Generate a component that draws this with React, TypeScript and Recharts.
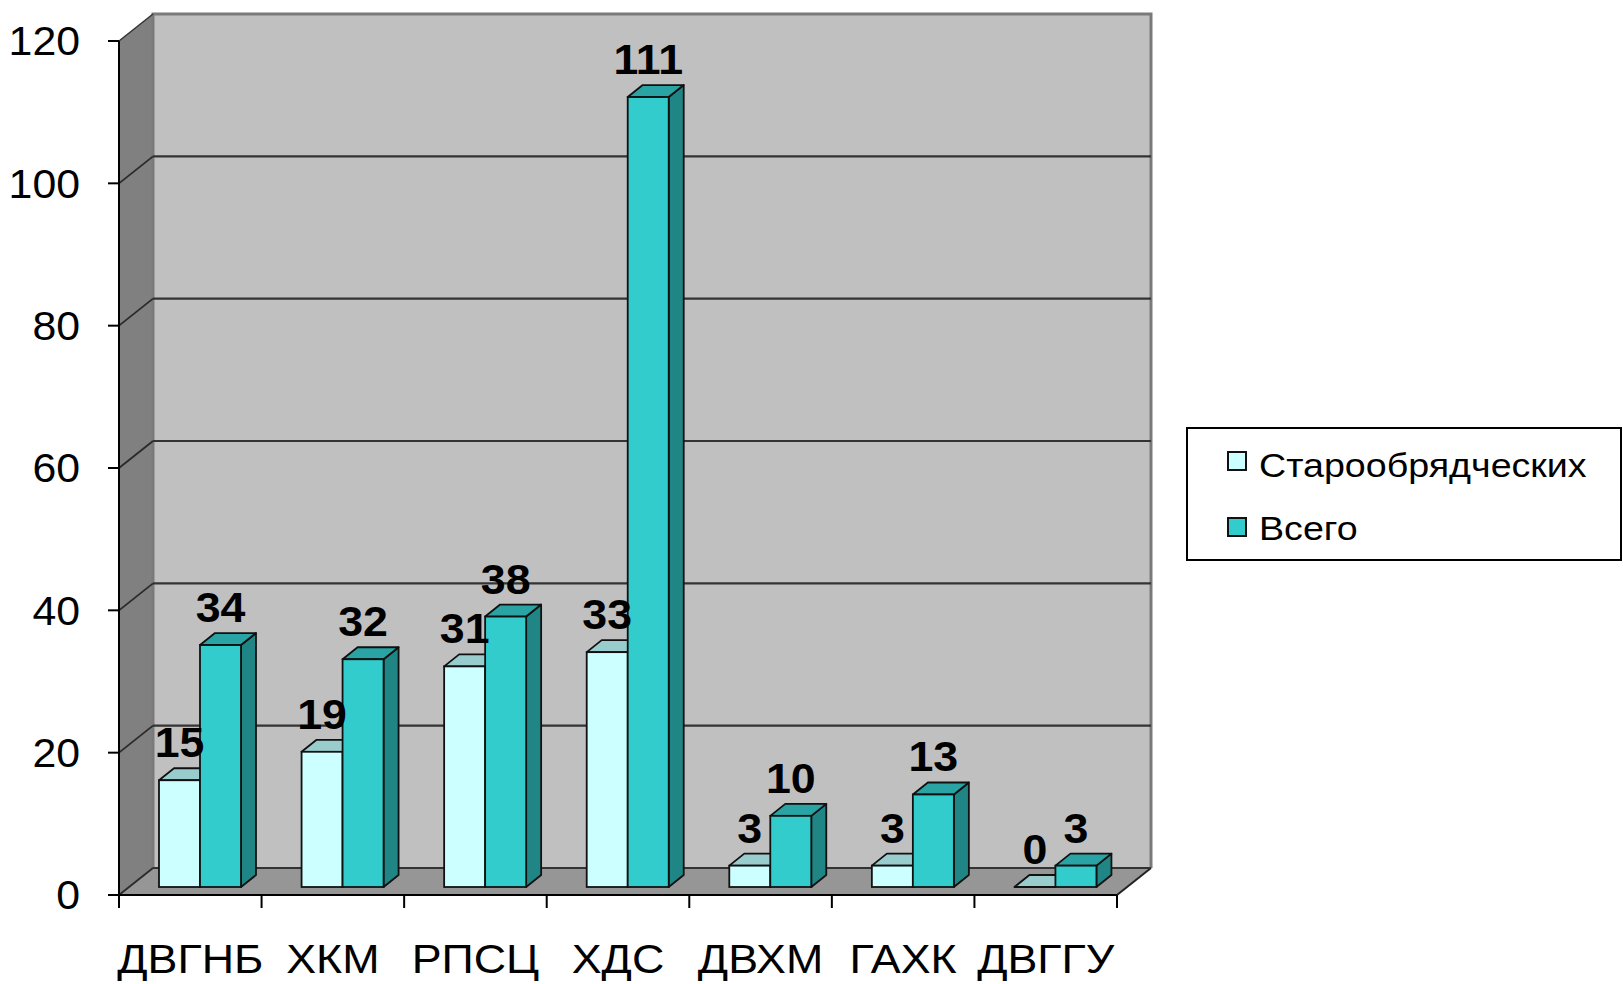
import React from 'react';
import { BarChart, Bar, XAxis, YAxis, CartesianGrid, LabelList, Legend } from 'recharts';

const categories = ['ДВГНБ', 'ХКМ', 'РПСЦ', 'ХДС', 'ДВХМ', 'ГАХК', 'ДВГГУ'];
const oldBelieverValues = [15, 19, 31, 33, 3, 3, 0];
const totalValues = [34, 32, 38, 111, 10, 13, 3];
const yTicks = [0, 20, 40, 60, 80, 100, 120];
const seriesNames = ['Старообрядческих', 'Всего'];

const data = categories.map((c, i) => ({ name: c, old: oldBelieverValues[i], total: totalValues[i] }));

const FONT = '"Liberation Sans", Arial, Helvetica, sans-serif';
const W = 1623;
const H = 984;
const M_TOP = 41;
const Y_AXIS_W = 119;
const X_AXIS_H = 89;
const PLOT_RIGHT_GAP = 506;
const LEGEND_W = 436;
const LEGEND_H = 134;
const PLOT_L = Y_AXIS_W;
const PLOT_R = W - PLOT_RIGHT_GAP;
const PLOT_T = M_TOP;
const PLOT_B = H - X_AXIS_H;
// wall depth
const WDX = 34;
const WDY = 27;
// bar depth
const BDX = 15;
const BDY = 12;
const SHIFT_X = 10;
const SHIFT_Y = -8;
// horizontal stretch of the text in the original picture
const STRETCH_CAT = 1.12;
const STRETCH_Y = 1.07;
const STRETCH_LEG = 1.14;
const STRETCH_LBL = 1.04;

const makeShape = (front: string, top: string, side: string) => (p: any) => {
  const x = p.x + SHIFT_X;
  const w = p.width;
  const yt = p.y + SHIFT_Y;
  const yb = yt + (p.height || 0);
  const stroke = '#111';
  const sw = 1.8;
  return (
    <g>
      <polygon
        points={`${x + w},${yt} ${x + w + BDX},${yt - BDY} ${x + w + BDX},${yb - BDY} ${x + w},${yb}`}
        fill={side}
        stroke={stroke}
        strokeWidth={sw}
        strokeLinejoin="round"
      />
      <polygon
        points={`${x},${yt} ${x + BDX},${yt - BDY} ${x + w + BDX},${yt - BDY} ${x + w},${yt}`}
        fill={top}
        stroke={stroke}
        strokeWidth={sw}
        strokeLinejoin="round"
      />
      {yb - yt > 0 && <rect x={x} y={yt} width={w} height={yb - yt} fill={front} stroke={stroke} strokeWidth={sw} />}
    </g>
  );
};

const lightShape = makeShape('#CCFFFF', '#99CCCC', '#80B0B0');
const tealShape = makeShape('#33CCCC', '#29A3A3', '#1F8585');

const renderLabel = (p: any) => {
  const cx = p.x + SHIFT_X + p.width / 2;
  const cy = p.y + SHIFT_Y - 23;
  return (
    <text
      x={0}
      y={0}
      transform={`translate(${cx},${cy}) scale(${STRETCH_LBL},1)`}
      textAnchor="middle"
      fontFamily={FONT}
      fontWeight="bold"
      fontSize={43}
      fill="#000"
    >
      {p.value}
    </text>
  );
};

const Walls = () => (
  <g>
    <polygon
      points={`${PLOT_L + WDX},${PLOT_T - WDY} ${PLOT_R + WDX},${PLOT_T - WDY} ${PLOT_R + WDX},${PLOT_B - WDY} ${PLOT_L + WDX},${PLOT_B - WDY}`}
      fill="#C0C0C0"
    />
    <polygon
      points={`${PLOT_L},${PLOT_T} ${PLOT_L + WDX},${PLOT_T - WDY} ${PLOT_L + WDX},${PLOT_B - WDY} ${PLOT_L},${PLOT_B}`}
      fill="#808080"
    />
    <polygon
      points={`${PLOT_L},${PLOT_B} ${PLOT_L + WDX},${PLOT_B - WDY} ${PLOT_R + WDX},${PLOT_B - WDY} ${PLOT_R},${PLOT_B}`}
      fill="#969696"
    />
    <polyline
      points={`${PLOT_L + WDX},${PLOT_B - WDY} ${PLOT_L + WDX},${PLOT_T - WDY} ${PLOT_R + WDX},${PLOT_T - WDY} ${PLOT_R + WDX},${PLOT_B - WDY}`}
      fill="none"
      stroke="#7A7A7A"
      strokeWidth={3}
    />
    <line x1={PLOT_L} y1={PLOT_T} x2={PLOT_L + WDX} y2={PLOT_T - WDY} stroke="#333" strokeWidth={1.5} />
    <line x1={PLOT_R} y1={PLOT_B} x2={PLOT_R + WDX} y2={PLOT_B - WDY} stroke="#222" strokeWidth={2} />
  </g>
);

const renderGridLine = (p: any) => {
  const y = p.y1;
  const isTop = Math.abs(y - PLOT_T) < 1;
  return (
    <g key={p.key}>
      {p.index === 0 && <Walls />}
      {!isTop && (
        <g>
          <line x1={PLOT_L} y1={y} x2={PLOT_L + WDX} y2={y - WDY} stroke="#2a2a2a" strokeWidth={1.8} />
          <line x1={PLOT_L + WDX} y1={y - WDY} x2={PLOT_R + WDX} y2={y - WDY} stroke="#333" strokeWidth={2.2} />
        </g>
      )}
    </g>
  );
};

const renderXTick = (p: any) => {
  const half = p.payload && p.payload.offset ? p.payload.offset : (PLOT_R - PLOT_L) / categories.length / 2;
  const left = p.x - half;
  const right = p.x + half;
  return (
    <g>
      <line x1={left} y1={p.y} x2={left} y2={p.y + 13} stroke="#000" strokeWidth={2} />
      {p.index === categories.length - 1 && (
        <line x1={right} y1={p.y} x2={right} y2={p.y + 13} stroke="#000" strokeWidth={2} />
      )}
      <text
        x={0}
        y={0}
        transform={`translate(${p.x},${p.y + 78}) scale(${STRETCH_CAT},1)`}
        textAnchor="middle"
        fontFamily={FONT}
        fontSize={40}
        fill="#000"
      >
        {p.payload.value}
      </text>
    </g>
  );
};

const renderYTick = (p: any) => (
  <text
    x={0}
    y={0}
    dy="0.355em"
    transform={`translate(${p.x},${p.y}) scale(${STRETCH_Y},1)`}
    textAnchor="end"
    fontFamily={FONT}
    fontSize={40}
    fill="#000"
  >
    {p.payload.value}
  </text>
);

const LegendBox = () => (
  <div
    style={{
      position: 'relative',
      width: LEGEND_W,
      height: LEGEND_H,
      boxSizing: 'border-box',
      border: '2px solid #000',
      background: '#fff',
      fontFamily: FONT,
    }}
  >
    {seriesNames.map((n, i) => (
      <React.Fragment key={n}>
        <div
          style={{
            position: 'absolute',
            left: 39,
            top: 22 + i * 66,
            width: 20,
            height: 20,
            boxSizing: 'border-box',
            border: '2px solid #111',
            background: i === 0 ? '#CCFFFF' : '#33CCCC',
          }}
        />
        <div
          style={{
            position: 'absolute',
            left: 71,
            top: 20 + i * 63,
            fontSize: 33,
            lineHeight: '33px',
            color: '#000',
            whiteSpace: 'nowrap',
            transform: `scaleX(${STRETCH_LEG})`,
            transformOrigin: 'left center',
          }}
        >
          {n}
        </div>
      </React.Fragment>
    ))}
  </div>
);

export default function App() {
  return (
    <div style={{ position: 'absolute', left: 0, top: 0, width: W, height: H, fontFamily: FONT, background: '#fff' }}>
      <BarChart
        width={W}
        height={H}
        data={data}
        margin={{ top: M_TOP, right: PLOT_RIGHT_GAP - LEGEND_W, bottom: 0, left: 0 }}
        barCategoryGap={30}
        barGap={0}
      >
        <CartesianGrid vertical={false} horizontal={renderGridLine} />
        <XAxis
          dataKey="name"
          height={X_AXIS_H}
          tickLine={false}
          tickSize={0}
          tickMargin={0}
          axisLine={{ stroke: '#000', strokeWidth: 2 }}
          tick={renderXTick}
          interval={0}
        />
        <YAxis
          width={Y_AXIS_W}
          domain={[0, 120]}
          ticks={yTicks}
          tickSize={11}
          tickMargin={28}
          tickLine={{ stroke: '#000', strokeWidth: 2 }}
          axisLine={{ stroke: '#000', strokeWidth: 2 }}
          tick={renderYTick}
          interval={0}
        />
        <Legend
          layout="vertical"
          align="right"
          verticalAlign="middle"
          content={() => <LegendBox />}
          wrapperStyle={{ left: 1186, top: 427, width: LEGEND_W, height: LEGEND_H }}
        />
        <Bar dataKey="old" name={seriesNames[0]} fill="#CCFFFF" shape={lightShape} isAnimationActive={false}>
          <LabelList dataKey="old" content={renderLabel} />
        </Bar>
        <Bar dataKey="total" name={seriesNames[1]} fill="#33CCCC" shape={tealShape} isAnimationActive={false}>
          <LabelList dataKey="total" content={renderLabel} />
        </Bar>
      </BarChart>
    </div>
  );
}
